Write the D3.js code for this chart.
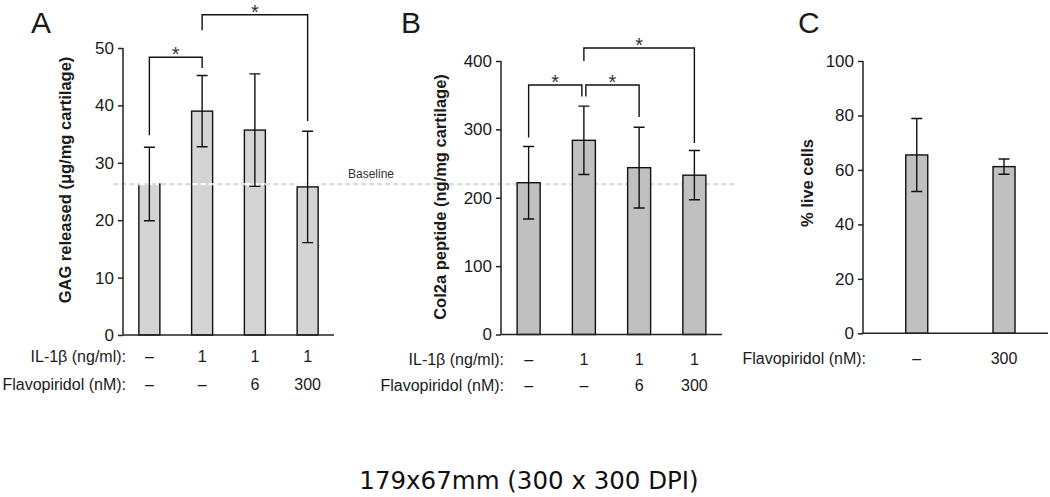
<!DOCTYPE html>
<html>
<head>
<meta charset="utf-8">
<title>flavopiridol cartilage</title>
<style>
body { margin: 0; background: #fff; }
svg { display: block; }
text { font-family: "Liberation Sans", Arial, sans-serif; fill: #1a1a1a; }
.tick text { font-size: 17px; fill: #1a1a1a; }
.tick line, .domain, .xline { stroke: #222; stroke-width: 1.5; }
.ylab { font-weight: bold; font-size: 16.5px; }
.letter { font-size: 30px; }
.cat { font-size: 16px; }
.star { font-size: 20px; fill: #333; }
.bar { stroke: #111; stroke-width: 1.4; }
.err, .bracket { stroke: #111; stroke-width: 1.4; fill: none; }
.caption { font-family: "DejaVu Sans", Verdana, sans-serif; font-size: 24.5px; fill: #111; }
</style>
</head>
<body>
<svg id="fig" width="1050" height="497"></svg>
<script src="https://d3js.org/d3.v7.min.js"></script>
<script>
// A: GAG released
const gagGroups = ['ctrl', 'il1', 'il1_f6', 'il1_f300'];
const gagMean = [26.3, 39.0, 35.7, 25.8];
const gagSd = [6.4, 6.2, 9.8, 9.7];
const gagTicks = [0, 10, 20, 30, 40, 50];
// [from, to, top, leftEnd, rightEnd] in data units
const gagSig = [[0, 1, 48.4, 34.8, 46.5], [1, 3, 55.8, 53.1, 37.3]];

// B: Col2a peptide
const col2Mean = [222, 284, 244, 233];
const col2Sd = [53, 50, 59, 36];
const col2Ticks = [0, 100, 200, 300, 400];
const col2Sig = [[0, 1, 365, 288, 348], [1, 2, 365, 348, 318], [1, 3, 419, 400, 280]];

// C: live cells
const liveGroups = ['ctrl', 'f300'];
const liveMean = [65.5, 61.2];
const liveSd = [13.4, 2.8];
const liveTicks = [0, 20, 40, 60, 80, 100];

const il1Labels = ['–', '1', '1', '1'];
const flavoLabels = ['–', '–', '6', '300'];
const liveFlavoLabels = ['–', '300'];

const svg = d3.select('#fig');

function panel(cfg) {
    const g = svg.append('g');
    const y = d3.scaleLinear().domain([0, cfg.max]).range([cfg.y0, cfg.y1]);
    const x = d3.scalePoint()
        .domain(cfg.groups)
        .range([cfg.xl, cfg.xr])
        .padding(cfg.pad)
        .align(cfg.align);

    let rows = cfg.groups.map(function(k, i) {
        return { key: k, mean: cfg.mean[i], sd: cfg.sd[i] };
    });

    g.selectAll('rect.bar').data(rows).enter()
        .append('rect')
        .classed('bar', true)
        .attr('x', d => x(d.key) - cfg.bw / 2)
        .attr('width', cfg.bw)
        .attr('y', d => y(d.mean))
        .attr('height', d => y(0) - y(d.mean))
        .style('fill', cfg.fill);

    // dashed baseline, white where it crosses a bar
    if (cfg.baseline) {
        const by = y(cfg.mean[0]);
        g.append('line')
            .attr('x1', cfg.baseline[0]).attr('x2', cfg.baseline[1])
            .attr('y1', by).attr('y2', by)
            .style('stroke', '#dcdcdc').style('stroke-width', 2.2)
            .style('stroke-dasharray', '5,3');
        g.selectAll('line.bw').data(rows).enter()
            .append('line')
            .attr('x1', d => x(d.key) - cfg.bw / 2 + 1)
            .attr('x2', d => x(d.key) + cfg.bw / 2 - 1)
            .attr('y1', by).attr('y2', by)
            .style('stroke', '#fff').style('stroke-width', 2.2)
            .style('stroke-dasharray', '5,3');
    }

    let err = g.selectAll('g.err').data(rows).enter().append('g');
    err.append('path')
        .classed('err', true)
        .attr('d', function(d) {
            let cx = x(d.key), hi = y(d.mean + d.sd), lo = y(d.mean - d.sd), c = 5.5;
            return 'M' + cx + ',' + hi + 'V' + lo +
                'M' + (cx - c) + ',' + hi + 'H' + (cx + c) +
                'M' + (cx - c) + ',' + lo + 'H' + (cx + c);
        });

    g.append('g')
        .attr('transform', 'translate(' + cfg.xl + ',0)')
        .call(d3.axisLeft(y).tickValues(cfg.ticks).tickSize(5).tickSizeOuter(0).tickPadding(4));
    g.select('.domain').attr('d', 'M0,' + y(0) + 'V' + y(cfg.max));

    g.append('line').classed('xline', true)
        .attr('x1', cfg.xl).attr('x2', cfg.xr)
        .attr('y1', y(0)).attr('y2', y(0));

    (cfg.sig || []).forEach(function(s) {
        let a = x(cfg.groups[s[0]]) + (s[5] || 0), b = x(cfg.groups[s[1]]) + (s[6] || 0);
        g.append('path').classed('bracket', true)
            .attr('d', 'M' + a + ',' + y(s[3]) + 'V' + y(s[2]) + 'H' + b + 'V' + y(s[4]));
        g.append('text').classed('star', true)
            .attr('x', (a + b) / 2).attr('y', y(s[2]) + 4)
            .attr('text-anchor', 'middle').text('*');
    });

    g.append('text').classed('ylab', true)
        .attr('transform', 'translate(' + cfg.labX + ',' + cfg.labY + ') rotate(-90)')
        .attr('text-anchor', 'middle')
        .text(cfg.label);

    g.append('text').classed('letter', true)
        .attr('x', cfg.letterX).attr('y', 33).text(cfg.letter);

    cfg.catRows.forEach(function(r) {
        g.append('text').classed('cat', true)
            .attr('x', cfg.xl + 3).attr('y', r.y)
            .attr('text-anchor', 'end').text(r.title);
        g.selectAll(null).data(r.labels).enter()
            .append('text').classed('cat', true)
            .attr('x', (d, i) => x(cfg.groups[i]))
            .attr('y', r.y)
            .attr('text-anchor', 'middle')
            .text(d => d);
    });
}

panel({
    groups: gagGroups, mean: gagMean, sd: gagSd, ticks: gagTicks, max: 50,
    y0: 335, y1: 48, xl: 123, xr: 334, pad: 0.5, align: 0.5, bw: 21,
    fill: '#d4d4d4', baseline: [113, 735],
    sig: gagSig,
    label: 'GAG released (μg/mg cartilage)', labX: 71, labY: 180,
    letter: 'A', letterX: 31,
    catRows: [{ title: 'IL-1β (ng/ml):', labels: il1Labels, y: 362 },
              { title: 'Flavopiridol (nM):', labels: flavoLabels, y: 390 }]
});

panel({
    groups: gagGroups, mean: col2Mean, sd: col2Sd, ticks: col2Ticks, max: 400,
    y0: 334.5, y1: 61, xl: 501, xr: 722, pad: 0.5, align: 0.5, bw: 23,
    fill: '#c0c0c0',
    sig: col2Sig.map((s, i) => i == 0 ? s.concat([0, -2]) : i == 1 ? s.concat([2, 0]) : s),
    label: 'Col2a peptide (ng/mg cartilage)', labX: 446, labY: 197,
    letter: 'B', letterX: 401,
    catRows: [{ title: 'IL-1β (ng/ml):', labels: il1Labels, y: 365 },
              { title: 'Flavopiridol (nM):', labels: flavoLabels, y: 391 }]
});

panel({
    groups: liveGroups, mean: liveMean, sd: liveSd, ticks: liveTicks, max: 100,
    y0: 333.3, y1: 61, xl: 863, xr: 1048, pad: 0.56, align: 0.55, bw: 22,
    fill: '#c0c0c0',
    label: '% live cells', labX: 813, labY: 183,
    letter: 'C', letterX: 798,
    catRows: [{ title: 'Flavopiridol (nM):', labels: liveFlavoLabels, y: 364 }]
});

svg.append('text').classed('caption', true)
    .attr('x', 529).attr('y', 489)
    .attr('text-anchor', 'middle')
    .text('179x67mm (300 x 300 DPI)');

svg.append('text')
    .attr('x', 348).attr('y', 178)
    .style('font-size', '12px').style('fill', '#333')
    .text('Baseline');
</script>
</body>
</html>
